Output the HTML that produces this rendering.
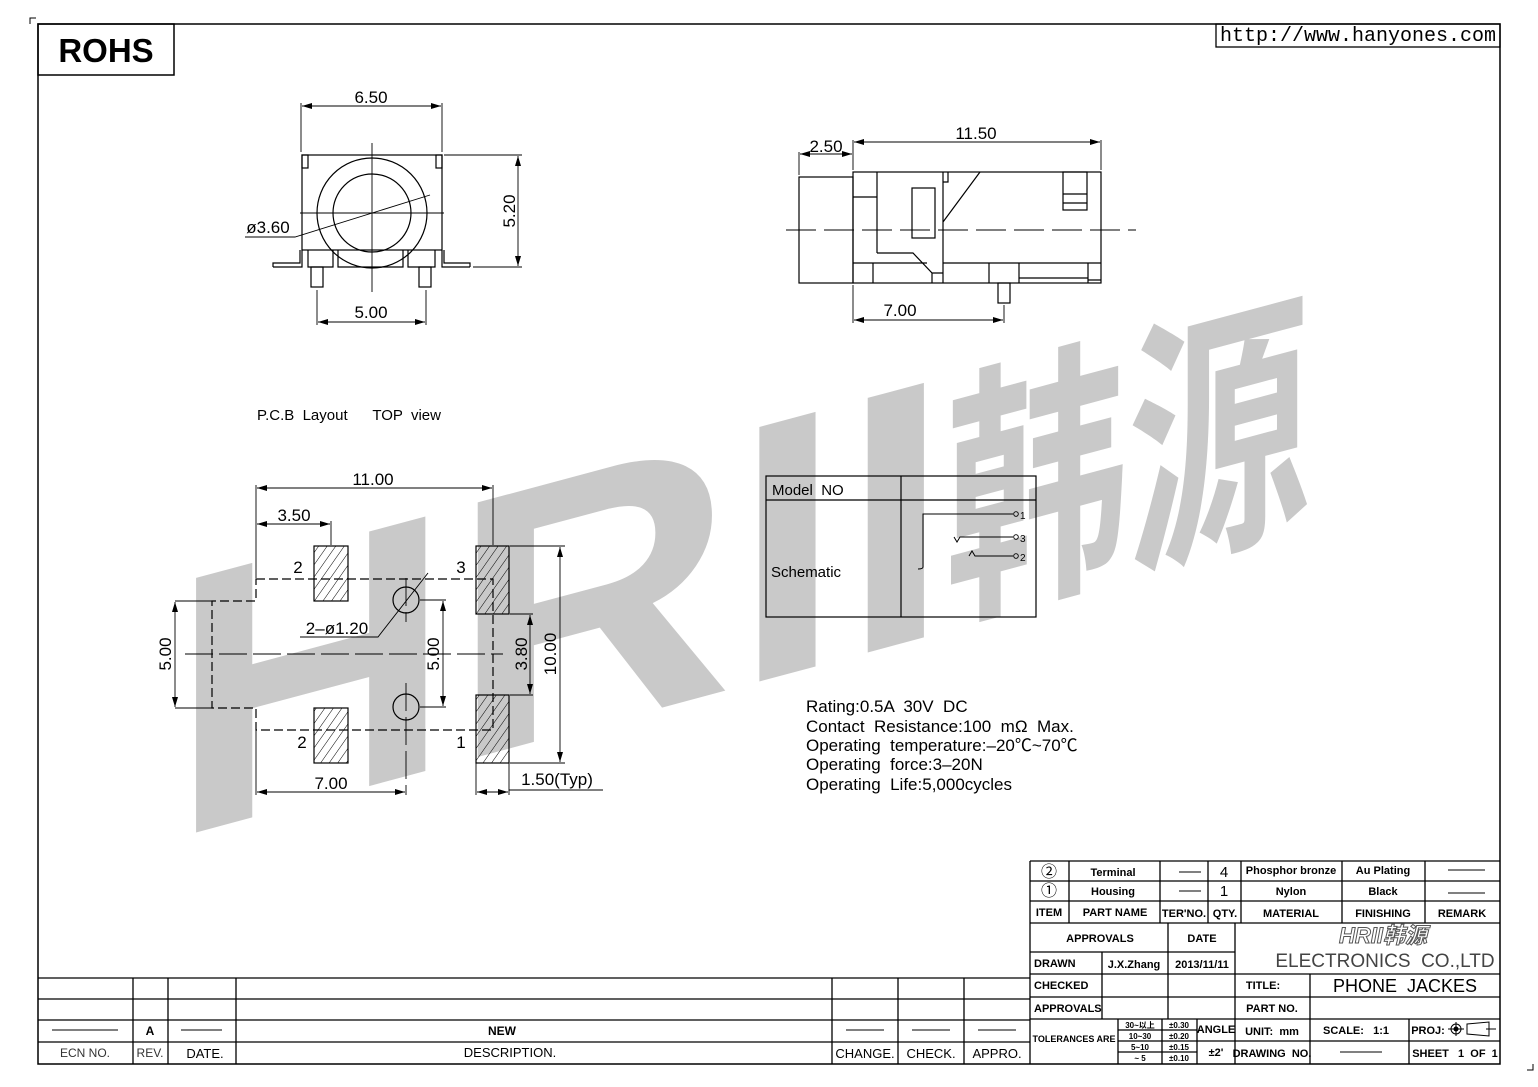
<!DOCTYPE html>
<html><head><meta charset="utf-8"><style>
html,body{margin:0;padding:0;background:#fff;}
svg{display:block;font-family:"Liberation Sans","Noto Sans CJK SC",sans-serif;}
text{white-space:pre;}
</style></head><body>
<svg width="1538" height="1087" viewBox="0 0 1538 1087" xmlns="http://www.w3.org/2000/svg">
<defs>
<pattern id="h" patternUnits="userSpaceOnUse" width="7" height="7" patternTransform="rotate(35)">
<line x1="0" y1="0" x2="0" y2="7" stroke="#000" stroke-width="1"/>
</pattern>
<marker id="a" viewBox="0 0 10 6" refX="10" refY="3" markerWidth="10" markerHeight="6" orient="auto-start-reverse" markerUnits="userSpaceOnUse"><path d="M0,0 L10,3 L0,6 z" fill="#000"/></marker>
</defs>
<rect width="1538" height="1087" fill="#fff"/>
<!-- watermark -->
<g transform="skewY(-15)" fill="#c9c9c9" font-weight="bold">
<text x="170" y="885" font-size="370" textLength="780" lengthAdjust="spacingAndGlyphs" font-family="Liberation Sans,sans-serif">HRII</text>
<text x="945" y="860" font-size="270" textLength="365" lengthAdjust="spacingAndGlyphs" font-family="Noto Sans CJK SC,sans-serif">韩源</text>
</g>
<g fill="none" stroke="#000" stroke-width="1.3">
<path d="M30,24 V18 H36 M1533,1064 V1070 H1527" stroke-width="1"/>
<rect x="38" y="24" width="1462" height="1040" stroke-width="1.5"/>
<rect x="38" y="24" width="136" height="51" stroke-width="1.5"/>
<rect x="1216" y="24" width="284" height="23"/>
</g>
<text x="106" y="62" font-size="33" font-weight="bold" text-anchor="middle">ROHS</text>
<text x="1358" y="41" font-size="20" text-anchor="middle" font-family="Liberation Mono,monospace">http://www.hanyones.com</text>

<!-- front view -->
<g fill="none" stroke="#000" stroke-width="1.2">
<rect x="302" y="155" width="140" height="95"/>
<rect x="302" y="155" width="6" height="13"/><rect x="436" y="155" width="6" height="13"/>
<circle cx="372" cy="213" r="55"/><circle cx="372" cy="213" r="39"/>
<path d="M273,267 H302 V250 M273,267 V263 H300 V250 M470,267 H442 V250 M470,267 V263 H444 V250"/>
<path d="M308,250 V267 H333 V250 M338,250 V267 H403 V250 M408,250 V267 H435 V250"/>
<rect x="311" y="267" width="12" height="20"/><rect x="419" y="267" width="12" height="20"/>
<path d="M300,213 H444 M372,143 V292" stroke-width="0.9"/>
<path d="M245,237 H295 L430,195" stroke-width="0.9"/>
<path d="M301,103 V152 M442,103 V152 M317,290 V325 M426,290 V325 M444,155 H522 M473,267 H522" stroke-width="0.9"/>
<path d="M302,106 H441" marker-start="url(#a)" marker-end="url(#a)" stroke-width="0.9"/>
<path d="M318,322 H425" marker-start="url(#a)" marker-end="url(#a)" stroke-width="0.9"/>
<path d="M518,156 V266" marker-start="url(#a)" marker-end="url(#a)" stroke-width="0.9"/>
</g>
<g font-size="17" text-anchor="middle">
<text x="371" y="103">6.50</text>
<text x="371" y="318">5.00</text>
<text x="268" y="233">ø3.60</text>
<text transform="translate(515,211) rotate(-90)">5.20</text>
</g>

<!-- side view -->
<g fill="none" stroke="#000" stroke-width="1.2">
<rect x="853" y="172" width="248" height="111"/>
<rect x="799" y="177" width="54" height="106"/>
<path d="M877,172 V253 M853,197 H877 M877,253 H913 L932,273 V283 M932,273 H943 M853,263 H927 M873,263 V283"/>
<path d="M943,172 V283 M943,182 H948 V172 M943,222 L980,172"/>
<rect x="912" y="188" width="23" height="50"/>
<rect x="1063" y="172" width="24" height="38"/>
<path d="M1063,194 H1087 M1063,203 H1087"/>
<path d="M943,263 H1101 M989,263 V283 M1019,263 V283 M1019,278 H1088 M1088,263 V283 M1088,280 H1101"/>
<rect x="998" y="283" width="12" height="20"/>
<path d="M786,230 H1136" stroke-dasharray="30,8" stroke-width="0.9"/>
<path d="M853,140 V170 M1101,140 V170 M799,152 V175 M853,285 V323 M1004,305 V323" stroke-width="0.9"/>
<path d="M854,142 H1100" marker-start="url(#a)" marker-end="url(#a)" stroke-width="0.9"/>
<path d="M800,154 H852" marker-start="url(#a)" marker-end="url(#a)" stroke-width="0.9"/>
<path d="M854,320 H1003" marker-start="url(#a)" marker-end="url(#a)" stroke-width="0.9"/>
</g>
<g font-size="17" text-anchor="middle">
<text x="976" y="139">11.50</text>
<text x="826" y="152">2.50</text>
<text x="900" y="316">7.00</text>
</g>

<text x="257" y="420" font-size="15">P.C.B  Layout      TOP  view</text>

<!-- PCB layout -->
<g stroke="#000" stroke-width="1.2">
<rect x="314" y="546" width="34" height="55" fill="url(#h)"/>
<rect x="314" y="708" width="34" height="55" fill="url(#h)"/>
<rect x="476" y="546" width="33" height="68" fill="url(#h)"/>
<rect x="476" y="695" width="33" height="68" fill="url(#h)"/>
</g>
<g fill="none" stroke="#000" stroke-width="1.2">
<path d="M256,579 H493 V730 H256 V708 H212 V601 H256 Z" stroke-dasharray="9,4"/>
<circle cx="406" cy="600" r="13"/><circle cx="406" cy="707" r="13"/>
<path d="M406,578 V622 M406,683 V795 M185,654 H503" stroke-width="0.9" stroke-dasharray="28,6"/>
<path d="M428,573 L378,637 H300" stroke-width="0.9"/>
<path d="M256,485 V578 M493,485 V545 M331,521 V545 M175,601 H212 M175,708 H212 M420,600 H446 M420,707 H446 M510,614 H533 M510,695 H533 M510,546 H565 M510,763 H565 M256,730 V795 M476,763 V795 M509,763 V795 M509,790 H603" stroke-width="0.9"/>
<path d="M257,488 H492" marker-start="url(#a)" marker-end="url(#a)" stroke-width="0.9"/>
<path d="M257,524 H330" marker-start="url(#a)" marker-end="url(#a)" stroke-width="0.9"/>
<path d="M175,602 V707" marker-start="url(#a)" marker-end="url(#a)" stroke-width="0.9"/>
<path d="M443,601 V706" marker-start="url(#a)" marker-end="url(#a)" stroke-width="0.9"/>
<path d="M530,615 V694" marker-start="url(#a)" marker-end="url(#a)" stroke-width="0.9"/>
<path d="M560,547 V762" marker-start="url(#a)" marker-end="url(#a)" stroke-width="0.9"/>
<path d="M257,792 H405" marker-start="url(#a)" marker-end="url(#a)" stroke-width="0.9"/>
<path d="M477,792 H508" marker-start="url(#a)" marker-end="url(#a)" stroke-width="0.9"/>
</g>
<g font-size="17" text-anchor="middle">
<text x="373" y="485">11.00</text>
<text x="294" y="521">3.50</text>
<text x="298" y="573">2</text><text x="461" y="573">3</text>
<text x="302" y="748">2</text><text x="461" y="748">1</text>
<text x="337" y="634">2–ø1.20</text>
<text x="331" y="789">7.00</text>
<text x="557" y="785">1.50(Typ)</text>
<text transform="translate(171,654) rotate(-90)">5.00</text>
<text transform="translate(439,654) rotate(-90)">5.00</text>
<text transform="translate(527,654) rotate(-90)">3.80</text>
<text transform="translate(556,654) rotate(-90)">10.00</text>
</g>

<!-- schematic -->
<g fill="none" stroke="#000" stroke-width="1.2">
<rect x="766" y="476" width="270" height="141"/>
<path d="M901,476 V617 M766,500 H1036"/>
<path d="M1013,514 H923 V567 Q923,569 918,569 M1013,537 H960 L957,542 L954,537 M1013,556 H975 L972,551 L969,556" stroke-width="1"/>
<circle cx="1016" cy="514" r="2.3" stroke-width="0.9"/><circle cx="1016" cy="537" r="2.3" stroke-width="0.9"/><circle cx="1016" cy="556" r="2.3" stroke-width="0.9"/>
</g>
<g font-size="15">
<text x="772" y="495">Model  NO</text>
<text x="771" y="577">Schematic</text>
<text x="1020" y="519" font-size="10">1</text>
<text x="1020" y="542" font-size="10">3</text>
<text x="1020" y="561" font-size="10">2</text>
</g>

<g font-size="17">
<text x="806" y="712">Rating:0.5A  30V  DC</text>
<text x="806" y="732">Contact  Resistance:100  mΩ  Max.</text>
<text x="806" y="751">Operating  temperature:–20℃~70℃</text>
<text x="806" y="770">Operating  force:3–20N</text>
<text x="806" y="790">Operating  Life:5,000cycles</text>
</g>

<!-- title block -->
<g fill="none" stroke="#000" stroke-width="1.3">
<path d="M1030,861 H1500 M1030,881 H1500 M1030,901 H1500 M1030,923 H1500 M1030,861 V1064"/>
<path d="M1069,861 V923 M1160,861 V923 M1208,861 V923 M1241,861 V923 M1342,861 V923 M1425,861 V923"/>
<path d="M1030,952 H1235 M1030,974 H1500 M1030,997 H1500 M1030,1019 H1500"/>
<path d="M1168,923 V1019 M1235,923 V1064 M1102,952 V1019 M1310,974 V1064 M1409,1019 V1064"/>
<path d="M1118,1019 V1064 M1162,1019 V1064 M1197,1019 V1064 M1118,1030 H1197 M1118,1041 H1197 M1118,1052 H1197 M1197,1041 H1500"/>
<path d="M1448,870 H1485 M1448,893 H1485 M1179,872 H1201 M1179,891 H1201 M1340,1052 H1382" stroke-width="1"/>
<circle cx="1456" cy="1029" r="5" stroke-width="1"/><path d="M1448,1029 H1464 M1456,1022 V1036 M1467,1024 L1489,1022 V1036 L1467,1034 Z M1486,1029 H1496" stroke-width="1"/>
</g>
<circle cx="1456" cy="1029" r="2.5"/>
<g font-size="11" font-weight="bold" text-anchor="middle">
<text x="1049" y="877" font-size="16" font-weight="normal">②</text>
<text x="1049" y="896" font-size="16" font-weight="normal">①</text>
<text x="1113" y="876">Terminal</text><text x="1113" y="895">Housing</text>
<text x="1224" y="877" font-size="15" font-weight="normal">4</text><text x="1224" y="896" font-size="15" font-weight="normal">1</text>
<text x="1291" y="874">Phosphor bronze</text><text x="1291" y="895">Nylon</text>
<text x="1383" y="874">Au Plating</text><text x="1383" y="895">Black</text>
<text x="1049" y="916">ITEM</text><text x="1115" y="916">PART NAME</text><text x="1184" y="917">TER'NO.</text><text x="1225" y="917">QTY.</text><text x="1291" y="917">MATERIAL</text><text x="1383" y="917">FINISHING</text><text x="1462" y="917">REMARK</text>
<text x="1100" y="942">APPROVALS</text><text x="1202" y="942">DATE</text>
<text x="1034" y="967" text-anchor="start">DRAWN</text>
<text x="1134" y="968">J.X.Zhang</text><text x="1202" y="968">2013/11/11</text>
<text x="1034" y="989" text-anchor="start">CHECKED</text>
<text x="1034" y="1012" text-anchor="start">APPROVALS</text>
<text x="1263" y="989">TITLE:</text><text x="1272" y="1012">PART NO.</text>
<text x="1074" y="1042" font-size="9">TOLERANCES ARE</text>
<text x="1140" y="1028" font-size="8">30~以上</text><text x="1140" y="1039" font-size="8">10~30</text><text x="1140" y="1050" font-size="8">5~10</text><text x="1140" y="1061" font-size="8">~ 5</text>
<text x="1179" y="1028" font-size="8">±0.30</text><text x="1179" y="1039" font-size="8">±0.20</text><text x="1179" y="1050" font-size="8">±0.15</text><text x="1179" y="1061" font-size="8">±0.10</text>
<text x="1216" y="1033">ANGLE</text><text x="1216" y="1056">±2'</text>
<text x="1272" y="1035">UNIT:  mm</text><text x="1272" y="1057">DRAWING  NO.</text>
<text x="1356" y="1034">SCALE:   1:1</text>
<text x="1428" y="1034">PROJ:</text>
<text x="1455" y="1057">SHEET   1  OF  1</text>
</g>
<text x="1383" y="943" font-size="22" font-weight="bold" font-style="italic" fill="#fff" stroke="#555" stroke-width="1" text-anchor="middle">HRII韩源</text>
<text x="1385" y="967" font-size="19" text-anchor="middle" fill="#444">ELECTRONICS  CO.,LTD</text>
<text x="1405" y="992" font-size="18" text-anchor="middle">PHONE  JACKES</text>

<!-- revision table -->
<g fill="none" stroke="#000" stroke-width="1.3">
<path d="M38,978 H1030 M38,999 H1030 M38,1020 H1030 M38,1042 H1030"/>
<path d="M133,978 V1064 M168,978 V1064 M236,978 V1064 M832,978 V1064 M898,978 V1064 M964,978 V1064"/>
<path d="M52,1030 H118 M181,1030 H222 M846,1030 H884 M912,1030 H950 M978,1030 H1016" stroke-width="1"/>
</g>
<g font-size="12" text-anchor="middle">
<text x="150" y="1035" font-weight="bold">A</text>
<text x="502" y="1035" font-weight="bold">NEW</text>
<text x="85" y="1057" fill="#333">ECN NO.</text>
<text x="150" y="1057" fill="#333">REV.</text>
<text x="205" y="1058" font-size="13">DATE.</text>
<text x="510" y="1057" font-size="13">DESCRIPTION.</text>
<text x="865" y="1058" font-size="13">CHANGE.</text>
<text x="931" y="1058" font-size="13">CHECK.</text>
<text x="997" y="1058" font-size="13">APPRO.</text>
</g>
</svg>
</body></html>
